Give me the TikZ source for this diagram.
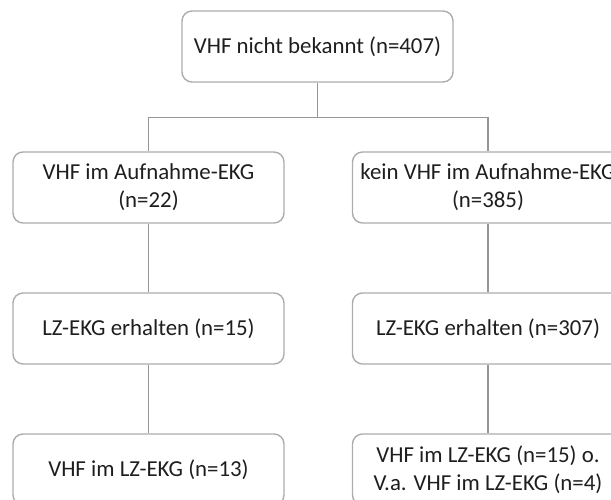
\documentclass[tikz,border=0pt]{standalone}
\usepackage{fontspec}
\setmainfont{Carlito}
\usepackage{tikz}
\usetikzlibrary{positioning}

\definecolor{boxgray}{RGB}{172,172,172}
\definecolor{linegray}{RGB}{150,150,150}
\definecolor{textgray}{RGB}{30,30,30}

\begin{document}
\begin{tikzpicture}[every text node part/.style={align=center},
	box/.style={draw=boxgray, line width=0.8pt, rounded corners=0.2cm, minimum width=5.42cm, minimum height=1.42cm, inner sep=0pt, font=\fontsize{13}{16}\selectfont, text=textgray},
	link/.style={draw=linegray, line width=0.8pt}]
		
		\useasboundingbox (0,0) rectangle (12.22,-10);
		\clip (0,0) rectangle (12.22,-10);
		
		\node[box] (start) at (6.35,-0.93) {VHF nicht bekannt (n=407)};
		
		\node[box] (aufnL) at (2.97,-3.75) {VHF im Aufnahme-EKG\\(n=22)};
		\node[box] (aufnR) at (9.76,-3.75) {kein VHF im Aufnahme-EKG\\(n=385)};
		
		\node[box] (lzL) at (2.97,-6.57) {LZ-EKG erhalten (n=15)};
		\node[box] (lzR) at (9.76,-6.57) {LZ-EKG erhalten (n=307)};
		
		\node[box] (vhfL) at (2.97,-9.39) {VHF im LZ-EKG (n=13)};
		\node[box] (vhfR) at (9.76,-9.39) {VHF im LZ-EKG (n=15) o.\\V.a. VHF im LZ-EKG (n=4)};
		
		\draw[link] (start.south) -- ++(0,-0.7) coordinate (fork);
		\draw[link] (aufnL.north) |- (fork) -| (aufnR.north);
		
		\draw[link] (aufnL) -- (lzL);
		\draw[link] (lzL) -- (vhfL);
		\draw[link] (aufnR) -- (lzR);
		\draw[link] (lzR) -- (vhfR);
		
		\end{tikzpicture}
\end{document}
